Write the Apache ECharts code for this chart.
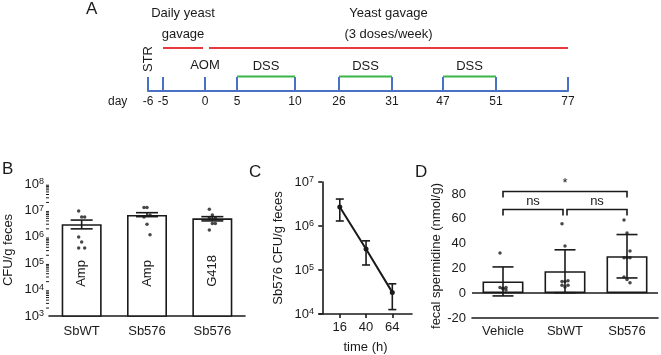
<!DOCTYPE html>
<html>
<head>
<meta charset="utf-8">
<script src="https://cdn.jsdelivr.net/npm/echarts@6/dist/echarts.min.js"></script>
<style>
    html, body { margin: 0; padding: 0; background: #fff; }
    #main { width: 661px; height: 355px; }
</style>
</head>
<body>
<div id="main"></div>
<script>
// ---- panel A : treatment timeline ----
var timelineDays = [-6, -5, 0, 5, 10, 26, 31, 47, 51, 77];
// the timeline is schematic, each day gets a slot on the drawn axis
var timelineSlots = [0, 15, 57, 89, 147, 191, 244, 295, 348, 420];
var gavagePhases = [[-5, 0], [0, 77]];
var gavageLabels = ['Daily yeast\ngavage', 'Yeast gavage\n(3 doses/week)'];
var dssWindows = [[5, 10], [26, 31], [47, 51]];
var events = [[-6, 'STR'], [0, 'AOM']];

// ---- panel B : CFU per g feces ----
var strains = ['SbWT', 'Sb576', 'Sb576'];
var selection = ['Amp', 'Amp', 'G418'];
var cfuMean = [3.0e6, 6.7e6, 5.0e6];
var cfuLow = [2.0e6, 5.8e6, 4.0e6];
var cfuHigh = [4.3e6, 8.2e6, 5.8e6];
var cfuPoints = [
    [9.5e6, 5.6e6, 5.6e6, 9.8e5, 6.3e5, 3.8e5, 3.8e5],
    [1.3e7, 1.3e7, 6.7e6, 5.6e6, 3.0e6, 1.2e6],
    [1.1e7, 6.7e6, 5.1e6, 5.1e6, 3.2e6, 3.2e6, 1.8e6]
];

// ---- panel C : Sb576 clearance ----
var hours = [16, 40, 64];
var sb576Mean = [2.7e6, 3.0e5, 3.1e4];
var sb576Low = [1.3e6, 1.3e5, 1.26e4];
var sb576High = [4.1e6, 4.6e5, 4.85e4];

// ---- panel D : fecal spermidine ----
var groups = ['Vehicle', 'SbWT', 'Sb576'];
var spdMean = [9.5, 17.7, 29.8];
var spdSd = [11.7, 17.3, 17.5];
var spdPoints = [
    [32.5, 3.5, 4.5, 4.5, 4, 2.5],
    [56, 38, 10, 9.5, 9.5, 6.5, 6.5, 5],
    [59, 48.5, 34, 28.5, 28.5, 28.5, 13, 11, 8.5]
];
var comparisons = [[0, 2, '*'], [0, 1, 'ns'], [1, 2, 'ns']];
var bracketLevels = [82, 67.5, 67.5];

var FONT = 'Liberation Sans, Arial, sans-serif';
var INK = '#1a1a1a';
var BLUE = '#4a72c4', RED = '#e8393e', GREEN = '#3ab54a';

// minor log ticks 2..9 x 10^n for panel B
var minorTicks = [];
for (var e = 3; e < 8; e++) {
    for (var k = 2; k < 10; k++) minorTicks.push(k * Math.pow(10, e));
}

function slotOf(day) {
    return timelineSlots[timelineDays.indexOf(day)];
}
function powLabel(v) {
    var e = Math.round(Math.log(v) / Math.LN10);
    return '{b|10}{s|' + e + '}';
}
var powRich = {
    b: {fontSize: 13, fontFamily: FONT, color: INK},
    s: {fontSize: 9, fontFamily: FONT, color: INK, verticalAlign: 'top'}
};
// error bars, data = [x, low, high]
function errorBar(capW) {
    return function (params, api) {
        var lo = api.coord([api.value(0), api.value(1)]);
        var hi = api.coord([api.value(0), api.value(2)]);
        var st = {stroke: INK, lineWidth: 1.6};
        return {
            type: 'group',
            children: [
                {type: 'line', shape: {x1: lo[0], y1: lo[1], x2: hi[0], y2: hi[1]}, style: st},
                {type: 'line', shape: {x1: lo[0] - capW / 2, y1: lo[1], x2: lo[0] + capW / 2, y2: lo[1]}, style: st},
                {type: 'line', shape: {x1: hi[0] - capW / 2, y1: hi[1], x2: hi[0] + capW / 2, y2: hi[1]}, style: st}
            ]
        };
    };
}
function jittered(list, cat) {
    return list.map(function (v, i) {
        return {value: [cat, v], symbolOffset: [((i % 3) - 1) * 3, 0]};
    });
}

var RED_LEVEL = 43, GREEN_LEVEL = 14.5;

var myChart = echarts.init(document.getElementById('main'));

var blackLine = {lineStyle: {color: INK, width: 1.6}};

var option = {
    animation: false,
    textStyle: {fontFamily: FONT},
    grid: [
        {left: 148, top: 40, width: 420, height: 51},
        {left: 49, top: 184, width: 196, height: 132},
        {left: 319, top: 182, width: 93, height: 132},
        {left: 472, top: 194, width: 186, height: 124}
    ],
    xAxis: [
        {
            gridIndex: 0, type: 'value', min: 0, max: 420,
            splitLine: {show: false},
            axisLine: {lineStyle: {color: BLUE, width: 2}},
            axisTick: {show: true, inside: true, length: 14, customValues: timelineSlots,
                lineStyle: {color: BLUE, width: 2}},
            axisLabel: {customValues: timelineSlots, margin: 5, color: INK, fontFamily: FONT, fontSize: 12,
                formatter: function (v) { return String(timelineDays[timelineSlots.indexOf(v)]); }}
        },
        {
            gridIndex: 1, type: 'category', data: strains,
            axisLine: blackLine,
            axisTick: {alignWithLabel: true, length: 4, lineStyle: {color: INK, width: 1.6}},
            axisLabel: {margin: 9, fontSize: 13, color: INK, fontFamily: FONT}
        },
        {
            gridIndex: 2, type: 'value', min: -3, max: 82,
            splitLine: {show: false},
            axisLine: blackLine,
            axisTick: {customValues: hours, length: 4, lineStyle: {color: INK, width: 1.6}},
            axisLabel: {customValues: hours, margin: 7, color: INK, fontFamily: FONT, fontSize: 13},
            name: 'time (h)', nameLocation: 'middle', nameGap: 27,
            nameTextStyle: {color: INK, fontFamily: FONT, fontSize: 13}
        },
        {
            gridIndex: 3, type: 'category', data: groups,
            axisLine: {onZero: false, lineStyle: {color: INK, width: 1.6}},
            axisTick: {show: false},
            axisLabel: {margin: 7, color: INK, fontFamily: FONT, fontSize: 13}
        }
    ],
    yAxis: [
        {gridIndex: 0, type: 'value', min: 0, max: 51, show: false},
        {
            gridIndex: 1, type: 'log', logBase: 10, min: 1e3, max: 1e8,
            splitLine: {show: false},
            axisLine: blackLine,
            axisTick: {length: 5, lineStyle: {color: INK, width: 1.6}},
            axisLabel: {color: INK, fontFamily: FONT, fontSize: 13, margin: 5, formatter: powLabel, rich: powRich},
            name: 'CFU/g feces', nameLocation: 'middle', nameRotate: 90, nameGap: 34,
            nameTextStyle: {color: INK, fontFamily: FONT, fontSize: 13}
        },
        {
            gridIndex: 2, type: 'log', logBase: 10, min: 1e4, max: 1e7,
            splitLine: {show: false},
            axisLine: blackLine,
            axisTick: {length: 4, lineStyle: {color: INK, width: 1.6}},
            axisLabel: {color: INK, fontFamily: FONT, fontSize: 13, margin: 5, formatter: powLabel, rich: powRich},
            name: 'Sb576 CFU/g feces', nameLocation: 'middle', nameRotate: 90, nameGap: 34,
            nameTextStyle: {color: INK, fontFamily: FONT, fontSize: 13}
        },
        {
            gridIndex: 3, type: 'value', min: -20, max: 80, interval: 20,
            splitLine: {show: false},
            axisLine: blackLine,
            axisTick: {length: 4, lineStyle: {color: INK, width: 1.6}},
            axisLabel: {color: INK, fontFamily: FONT, fontSize: 13, margin: 6},
            name: 'fecal spermidine (nmol/g)', nameLocation: 'middle', nameRotate: 90, nameGap: 26,
            nameTextStyle: {color: INK, fontFamily: FONT, fontSize: 13}
        }
    ],
    graphic: [
        {type: 'text', left: 86, top: 1, style: {text: 'A', fontSize: 17, fontFamily: FONT, fill: INK}},
        {type: 'text', left: 108, top: 96, style: {text: 'day', fontSize: 12, fontFamily: FONT, fill: INK}},
        {type: 'text', left: 2, top: 161, style: {text: 'B', fontSize: 17, fontFamily: FONT, fill: INK}},
        {type: 'text', left: 249, top: 164, style: {text: 'C', fontSize: 17, fontFamily: FONT, fill: INK}},
        {type: 'text', left: 415, top: 164, style: {text: 'D', fontSize: 17, fontFamily: FONT, fill: INK}}
    ],
    series: [
        // A: yeast gavage phases (red)
        {
            type: 'custom', xAxisIndex: 0, yAxisIndex: 0,
            data: gavagePhases.map(function (p) { return [slotOf(p[0]), slotOf(p[1])]; }),
            renderItem: function (params, api) {
                var a = api.coord([api.value(0), RED_LEVEL]);
                var b = api.coord([api.value(1), RED_LEVEL]);
                var ph = gavagePhases[params.dataIndex];
                var x1 = a[0] + (ph[0] === 0 ? 4 : 0);
                var x2 = b[0] - (ph[1] === 0 ? 2 : 0);
                return {type: 'group', children: [
                    {type: 'line', shape: {x1: x1, y1: a[1], x2: x2, y2: a[1]}, style: {stroke: RED, lineWidth: 2}},
                    {type: 'text', x: (x1 + x2) / 2, y: a[1] - 3, style: {
                        text: gavageLabels[params.dataIndex], align: 'center', verticalAlign: 'bottom',
                        fontSize: 13, lineHeight: 21, fontFamily: FONT, fill: INK}}
                ]};
            }
        },
        // A: DSS windows (green)
        {
            type: 'custom', xAxisIndex: 0, yAxisIndex: 0,
            data: dssWindows.map(function (w) { return [slotOf(w[0]), slotOf(w[1])]; }),
            renderItem: function (params, api) {
                var a = api.coord([api.value(0), GREEN_LEVEL]);
                var b = api.coord([api.value(1), GREEN_LEVEL]);
                return {type: 'group', children: [
                    {type: 'line', shape: {x1: a[0], y1: a[1], x2: b[0], y2: a[1]}, style: {stroke: GREEN, lineWidth: 2}},
                    {type: 'text', x: (a[0] + b[0]) / 2, y: a[1] - 4, style: {
                        text: 'DSS', align: 'center', verticalAlign: 'bottom',
                        fontSize: 13, fontFamily: FONT, fill: INK}}
                ]};
            }
        },
        // A: STR / AOM events
        {
            type: 'custom', xAxisIndex: 0, yAxisIndex: 0,
            data: events.map(function (e) { return [slotOf(e[0]), 0]; }),
            renderItem: function (params, api) {
                var p = api.coord([api.value(0), 0]);
                var label = events[params.dataIndex][1];
                if (label === 'STR') {
                    return {type: 'text', x: p[0], y: p[1] - 19, rotation: Math.PI / 2, style: {
                        text: label, align: 'left', verticalAlign: 'middle',
                        fontSize: 13, fontFamily: FONT, fill: INK}};
                }
                return {type: 'text', x: p[0], y: p[1] - 19, style: {
                    text: label, align: 'center', verticalAlign: 'bottom',
                    fontSize: 13, fontFamily: FONT, fill: INK}};
            }
        },
        // B: minor ticks of the log axis
        {
            type: 'custom', xAxisIndex: 1, yAxisIndex: 1, clip: false, silent: true,
            data: minorTicks.map(function (v) { return [0, v]; }),
            renderItem: function (params, api) {
                var p = api.coord([0, api.value(1)]);
                var x0 = params.coordSys.x;
                return {type: 'line', shape: {x1: x0 - 3, y1: p[1], x2: x0, y2: p[1]},
                    style: {stroke: INK, lineWidth: 1}};
            }
        },
        // B: bars
        {
            type: 'bar', xAxisIndex: 1, yAxisIndex: 1, barWidth: 40,
            data: cfuMean,
            itemStyle: {color: '#fff', borderColor: INK, borderWidth: 1.6},
            label: {
                show: true, position: 'insideBottom', distance: 30, rotate: 90,
                align: 'left', verticalAlign: 'middle',
                formatter: function (p) { return selection[p.dataIndex]; },
                color: INK, fontFamily: FONT, fontSize: 13
            }
        },
        {
            type: 'custom', xAxisIndex: 1, yAxisIndex: 1, z: 3,
            data: cfuMean.map(function (m, i) { return [i, cfuLow[i], cfuHigh[i]]; }),
            renderItem: errorBar(22)
        },
        {
            type: 'scatter', xAxisIndex: 1, yAxisIndex: 1, symbolSize: 3.5, z: 4,
            itemStyle: {color: INK},
            data: [].concat(jittered(cfuPoints[0], 0), jittered(cfuPoints[1], 1), jittered(cfuPoints[2], 2))
        },
        // C: clearance line
        {
            type: 'line', xAxisIndex: 2, yAxisIndex: 2,
            data: hours.map(function (h, i) { return [h, sb576Mean[i]]; }),
            symbol: 'circle', symbolSize: 5,
            lineStyle: {color: INK, width: 2}, itemStyle: {color: INK}
        },
        {
            type: 'custom', xAxisIndex: 2, yAxisIndex: 2,
            data: hours.map(function (h, i) { return [h, sb576Low[i], sb576High[i]]; }),
            renderItem: errorBar(8)
        },
        // D: bars
        {
            type: 'bar', xAxisIndex: 3, yAxisIndex: 3, barWidth: 41,
            data: spdMean,
            itemStyle: {color: '#fff', borderColor: INK, borderWidth: 1.6},
            markLine: {
                silent: true, symbol: 'none', label: {show: false},
                lineStyle: {color: INK, width: 1.6, type: 'solid'},
                data: [{yAxis: 0}]
            }
        },
        {
            type: 'custom', xAxisIndex: 3, yAxisIndex: 3, z: 3,
            data: spdMean.map(function (m, i) { return [i, m - spdSd[i], m + spdSd[i]]; }),
            renderItem: errorBar(21)
        },
        {
            type: 'scatter', xAxisIndex: 3, yAxisIndex: 3, symbolSize: 3.5, z: 4,
            itemStyle: {color: INK},
            data: [].concat(jittered(spdPoints[0], 0), jittered(spdPoints[1], 1), jittered(spdPoints[2], 2))
        },
        // D: significance brackets
        {
            type: 'custom', xAxisIndex: 3, yAxisIndex: 3, clip: false,
            data: comparisons.map(function (c, i) { return [c[0], c[1], bracketLevels[i]]; }),
            renderItem: function (params, api) {
                var a = api.coord([api.value(0), api.value(2)]);
                var b = api.coord([api.value(1), api.value(2)]);
                var inL = api.value(0) === 1 ? 2 : 0;
                var inR = api.value(1) === 1 && api.value(0) === 0 ? 2 : 0;
                var x1 = a[0] + inL, x2 = b[0] - inR, y = a[1], leg = 6;
                return {type: 'group', children: [
                    {type: 'polyline', shape: {points: [[x1, y + leg], [x1, y], [x2, y], [x2, y + leg]]},
                        style: {stroke: INK, lineWidth: 1.6, fill: null}},
                    {type: 'text', x: (x1 + x2) / 2, y: y - 2, style: {
                        text: comparisons[params.dataIndex][2], align: 'center', verticalAlign: 'bottom',
                        fontSize: 13, fontFamily: FONT, fill: INK}}
                ]};
            }
        }
    ]
};

myChart.setOption(option);
</script>
</body>
</html>
